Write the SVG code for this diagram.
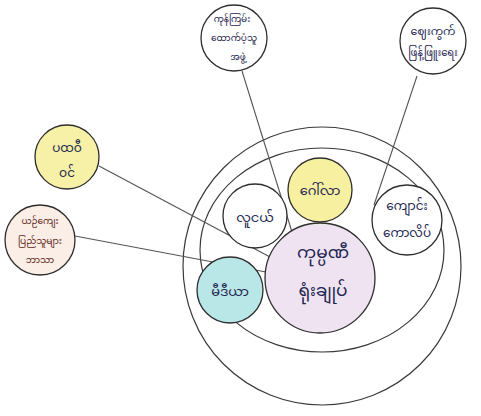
<svg xmlns="http://www.w3.org/2000/svg" width="481" height="416" viewBox="0 0 481 416">
<style>
.ring{fill:none;stroke:#3a3a3a;stroke-width:1.2}
.node{stroke:#2e2e2e;stroke-width:1.3}
.conn{stroke:#555;stroke-width:1.1;fill:none}
text{font-family:"Noto Sans Myanmar","Padauk","Myanmar Text","Noto Sans",sans-serif;text-anchor:middle;fill:#1d2550}
.t9{font-size:9px}
.t10{font-size:10px}
.t11{font-size:11px}
.t12{font-size:12px}
.t13{font-size:13px}
.t17{font-size:17px}
.brown{fill:#5b2418}
</style>
<rect width="481" height="416" fill="#ffffff"/>
<circle class="ring" cx="322" cy="266" r="139"/>
<ellipse class="ring" cx="322" cy="250" rx="122" ry="102"/>
<g id="connectors">
<line class="conn" x1="242" y1="71" x2="292" y2="232"/>
<line class="conn" x1="417" y1="76" x2="374" y2="205"/>
<line class="conn" x1="99" y1="166" x2="270" y2="257"/>
<line class="conn" x1="75" y1="236" x2="266" y2="272"/>
</g>
<g id="n-top"><circle class="node" cx="234" cy="38" r="33" fill="#fff"/>
<text class="t9" x="232" y="22">ကုန်ကြမ်း</text><text class="t9" x="234" y="41">ထောက်ပံ့သူ</text><text class="t9" x="238" y="60">အဖွဲ့</text></g>
<g id="n-topright"><circle class="node" cx="433" cy="41" r="33" fill="#fff"/>
<text class="t11" x="433" y="35">ဈေးကွက်</text><text class="t10" x="433" y="56">ဖြန့်ဖြူးရေး</text></g>
<g id="n-leftyellow"><circle class="node" cx="67" cy="157" r="32" fill="#f6f1a6"/>
<text class="t12" x="67" y="152">ပထဝီ</text><text class="t12" x="67" y="177">ဝင်</text></g>
<g id="n-leftbrown"><circle class="node" cx="40" cy="240" r="35" fill="#fbeee6"/>
<text class="brown t9" x="40" y="224">ယဉ်ကျေး</text><text class="brown t9" x="40" y="244">ပြည်သူများ</text><text class="brown t9" x="40" y="263">ဘာသာ</text></g>
<g id="n-youth"><circle class="node" cx="255" cy="216" r="32" fill="#fff"/>
<text class="t13" x="255" y="222">လူငယ်</text></g>
<g id="n-yellow"><circle class="node" cx="320" cy="190" r="32" fill="#f7f0a0"/>
<text class="t13" x="320" y="195">ဂေါ်လာ</text></g>
<g id="n-school"><circle class="node" cx="407" cy="220" r="35" fill="#fff"/>
<text class="t12" x="407" y="210">ကျောင်း</text><text class="t12" x="407" y="237">ကောလိပ်</text></g>
<g id="n-center"><circle class="node" cx="320" cy="278" r="55" fill="#efe3f2"/>
<text class="t17" x="323" y="258">ကုမ္ပဏီ</text><text class="t17" x="323" y="296">ရုံးချုပ်</text></g>
<g id="n-media"><circle class="node" cx="230" cy="290" r="33" fill="#b9e6e6"/>
<text class="t13" x="230" y="296">မီဒီယာ</text></g>
</svg>
